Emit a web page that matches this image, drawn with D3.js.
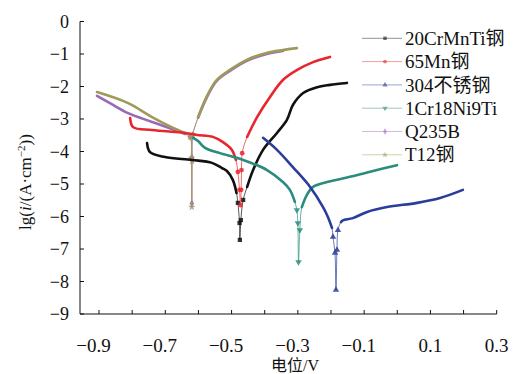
<!DOCTYPE html>
<html>
<head>
<meta charset="utf-8">
<script src="https://cdn.jsdelivr.net/npm/d3@7/dist/d3.min.js"></script>
<style>
  body { margin: 0; background: #fff; }
  svg { display: block; }
  text { font-family: "Liberation Serif", "Noto Sans CJK SC", serif; fill: #111; }
</style>
</head>
<body>
<svg id="chart" width="516" height="374"></svg>
<script>
// polarization curves: [potential V, lg(i)]
var names = ["20CrMnTi钢", "65Mn钢", "304不锈钢", "1Cr18Ni9Ti", "Q235B", "T12钢"]
var colors = ["#111111", "#e8262d", "#2a3d9a", "#2a8c7c", "#9b68b5", "#9e9a5a"]

var s20CrMnTi = [
  [-0.755, -3.74], [-0.746, -4.02], [-0.701, -4.17], [-0.619, -4.26], [-0.559, -4.35],
  [-0.529, -4.51], [-0.514, -4.60], [-0.496, -4.88], [-0.485, -5.28], [-0.481, -5.58],
  [-0.476, -6.20], [-0.475, -6.72], [-0.472, -6.11], [-0.465, -5.49], [-0.453, -5.09],
  [-0.435, -4.57], [-0.405, -3.95], [-0.363, -3.43], [-0.333, -3.03], [-0.315, -2.57],
  [-0.284, -2.20], [-0.242, -2.02], [-0.203, -1.95], [-0.152, -1.89]
]
var s65Mn = [
  [-0.806, -2.97], [-0.797, -3.25], [-0.740, -3.34], [-0.640, -3.43], [-0.604, -3.49],
  [-0.556, -3.55], [-0.526, -3.71], [-0.499, -3.95], [-0.487, -4.26], [-0.481, -4.63],
  [-0.476, -5.18], [-0.473, -5.65], [-0.471, -5.18], [-0.470, -4.57], [-0.468, -4.05],
  [-0.453, -3.55], [-0.423, -2.94], [-0.384, -2.32], [-0.345, -1.80], [-0.302, -1.49],
  [-0.254, -1.25], [-0.203, -1.09]
]
var s304 = [
  [-0.405, -3.58], [-0.363, -3.95], [-0.315, -4.48], [-0.263, -5.09], [-0.224, -5.71],
  [-0.209, -6.02], [-0.197, -6.35], [-0.194, -6.63], [-0.188, -7.12], [-0.185, -8.26],
  [-0.182, -7.03], [-0.179, -6.42], [-0.170, -6.17], [-0.164, -6.12], [-0.134, -6.05],
  [-0.091, -5.86], [-0.031, -5.71], [0.060, -5.58], [0.129, -5.43], [0.198, -5.18]
]
var s1Cr18Ni9Ti = [
  [-0.616, -3.58], [-0.601, -3.68], [-0.580, -3.89], [-0.535, -4.05], [-0.465, -4.26],
  [-0.393, -4.57], [-0.345, -4.94], [-0.324, -5.18], [-0.309, -5.55], [-0.303, -5.80],
  [-0.300, -6.20], [-0.298, -7.40], [-0.294, -6.42], [-0.288, -5.71], [-0.273, -5.34],
  [-0.254, -5.09], [-0.212, -4.94], [-0.143, -4.78], [-0.073, -4.60], [-0.001, -4.42]
]
var sQ235B = [
  [-0.906, -2.29], [-0.867, -2.51], [-0.812, -2.82], [-0.740, -3.09], [-0.680, -3.31],
  [-0.640, -3.46], [-0.625, -3.55], [-0.621, -4.20], [-0.620, -5.60], [-0.619, -4.20],
  [-0.617, -3.50], [-0.601, -2.96], [-0.575, -2.34], [-0.545, -1.83], [-0.505, -1.52],
  [-0.454, -1.21], [-0.394, -1.00], [-0.345, -0.91]
]
var sT12 = [
  [-0.906, -2.17], [-0.812, -2.51], [-0.740, -2.94], [-0.681, -3.25], [-0.640, -3.43],
  [-0.625, -3.55], [-0.621, -4.20], [-0.620, -5.71], [-0.619, -4.30], [-0.617, -3.50],
  [-0.601, -2.94], [-0.575, -2.31], [-0.545, -1.80], [-0.505, -1.49], [-0.454, -1.18],
  [-0.394, -0.97], [-0.345, -0.88], [-0.303, -0.82]
]
var series = [s20CrMnTi, s65Mn, s304, s1Cr18Ni9Ti, sQ235B, sT12]
var symbols = [d3.symbolSquare, d3.symbolCircle, d3.symbolTriangle, d3.symbolTriangle, d3.symbolDiamond, d3.symbolStar]

var xTicks = [-0.9, -0.8, -0.7, -0.6, -0.5, -0.4, -0.3, -0.2, -0.1, 0, 0.1, 0.2, 0.3]
var xLabels = [-0.9, -0.7, -0.5, -0.3, -0.1, 0.1, 0.3]
var yTicks = [0, -1, -2, -3, -4, -5, -6, -7, -8, -9]

var svg = d3.select("#chart")

var x = d3.scaleLinear().domain([-0.9, 0.3]).range([99, 496.7])
var y = d3.scaleLinear().domain([-9, 0]).range([314, 21.5])

// axes (inward ticks, left + bottom only)
var gx = svg.append("g").attr("transform", "translate(0,314)")
gx.append("line").attr("x1", 80).attr("x2", x(0.3)).attr("stroke", "#111")
gx.selectAll(".t").data(xTicks).enter().append("line")
  .attr("x1", d => x(d)).attr("x2", d => x(d)).attr("y1", 0).attr("y2", -4).attr("stroke", "#111")
gx.selectAll(".l").data(xLabels).enter().append("text")
  .attr("x", d => d < 0 ? x(d) + 11.8 : x(d))
  .attr("y", 38)
  .attr("text-anchor", d => d < 0 ? "end" : "middle")
  .style("font-size", "19px")
  .text(d => (d < 0 ? "\u2212" : "") + Math.abs(d).toFixed(1))

var gy = svg.append("g").attr("transform", "translate(80,0)")
gy.append("line").attr("y1", y(-9)).attr("y2", y(0)).attr("stroke", "#111")
gy.selectAll(".t").data(yTicks).enter().append("line")
  .attr("y1", d => y(d)).attr("y2", d => y(d)).attr("x1", 0).attr("x2", 4).attr("stroke", "#111")
gy.selectAll(".l").data(yTicks).enter().append("text")
  .attr("x", -11).attr("y", d => y(d)).attr("dy", "0.34em")
  .attr("text-anchor", "end")
  .style("font-size", "18px")
  .text(d => d === 0 ? "0" : "\u2212" + Math.abs(d))

// axis titles
var yt = svg.append("text")
  .attr("transform", "translate(31,182) rotate(-90)")
  .attr("text-anchor", "middle")
  .style("font-size", "17px")
yt.append("tspan").text("lg(")
yt.append("tspan").style("font-style", "italic").text("i")
yt.append("tspan").text("/(A\u00b7cm")
yt.append("tspan").attr("dy", -6).style("font-size", "11px").text("\u22122")
yt.append("tspan").attr("dy", 6).text("))")

svg.append("text").attr("x", 295).attr("y", 371).attr("text-anchor", "middle")
  .style("font-size", "16px").text("电位/V")

// curves
var line = d3.line().x(d => x(d[0])).y(d => y(d[1])).curve(d3.curveCatmullRom.alpha(0.5))
var order = [4, 5, 0, 1, 3, 2]
order.forEach(function (i) {
  var data = series[i]
  var xmin = d3.least(data, d => d[1])[0]
  var near = d => Math.abs(d[0] - xmin) <= 0.01
  var g = svg.append("g")
  g.append("path").attr("d", line.defined(() => true)(data)).attr("fill", "none")
    .attr("stroke", colors[i]).attr("stroke-width", 1).attr("opacity", 0.7)
  g.append("path").attr("d", line.defined(d => !near(d))(data)).attr("fill", "none")
    .attr("stroke", colors[i]).attr("stroke-width", 2.6).attr("stroke-linejoin", "round")
    .attr("stroke-linecap", "round")
  g.selectAll("path.m").data(data.filter(near)).enter().append("path")
    .attr("class", "m")
    .attr("transform", d => "translate(" + x(d[0]) + "," + y(d[1]) + ")" + (i === 3 ? " rotate(180)" : ""))
    .attr("d", d3.symbol().type(symbols[i]).size(18))
    .attr("fill", colors[i]).attr("opacity", 0.85)
})

// legend
var lg = svg.append("g")
names.forEach(function (n, i) {
  var yy = 38.3 + i * 23.3
  lg.append("line").attr("x1", 362).attr("x2", 402).attr("y1", yy).attr("y2", yy)
    .attr("stroke", colors[i]).attr("stroke-width", 1).attr("opacity", 0.45)
  lg.append("path").attr("transform", "translate(385," + yy + ")" + (i === 3 ? " rotate(180)" : ""))
    .attr("d", d3.symbol().type(symbols[i]).size(12)).attr("fill", colors[i]).attr("opacity", 0.6)
  lg.append("text").attr("x", 405).attr("y", yy).attr("dy", "0.35em")
    .style("font-size", "19px").text(n)
})
</script>
</body>
</html>
